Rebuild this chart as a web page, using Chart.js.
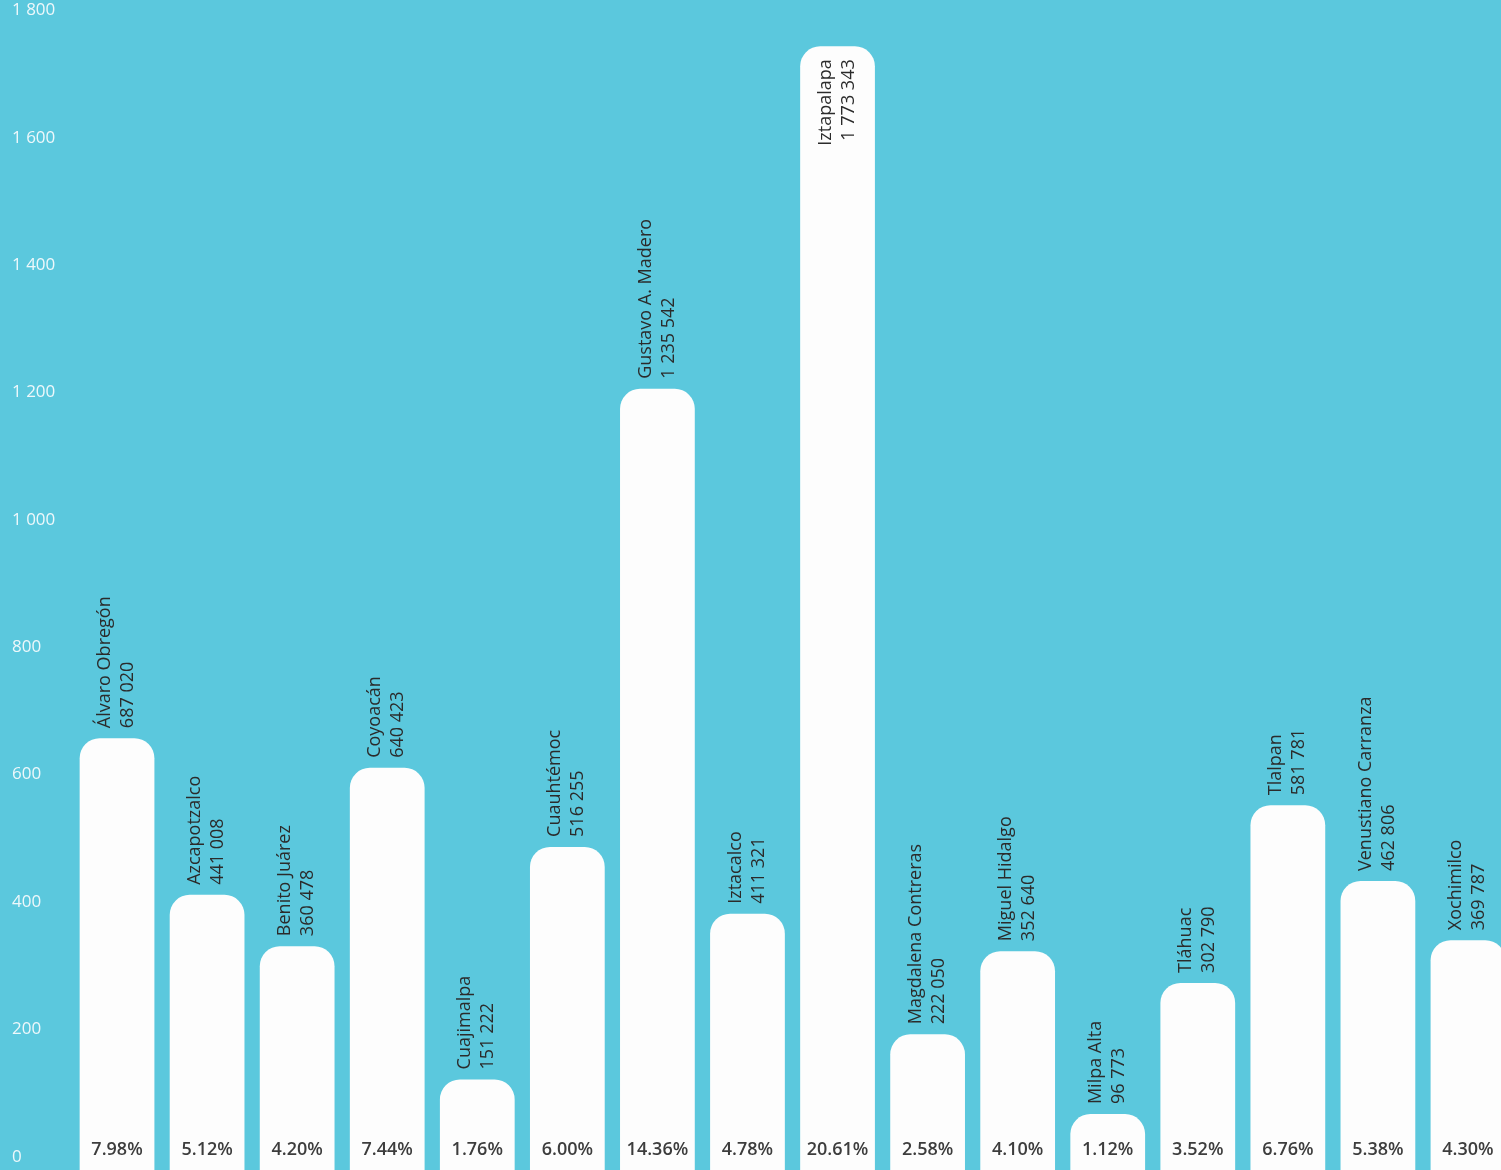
<!DOCTYPE html>
<html>
<head>
<meta charset="utf-8">
<script src="https://cdn.jsdelivr.net/npm/chart.js@4"></script>
<style>
  html, body { margin: 0; padding: 0; overflow: hidden; background: #5bc8dd; }
  #wrap { width: 1513px; height: 1170px; }
</style>
</head>
<body>
<div id="wrap"><canvas id="chart"></canvas></div>
<script>
const boroughs = ['Álvaro Obregón', 'Azcapotzalco', 'Benito Juárez', 'Coyoacán', 'Cuajimalpa', 'Cuauhtémoc',
    'Gustavo A. Madero', 'Iztacalco', 'Iztapalapa', 'Magdalena Contreras', 'Miguel Hidalgo', 'Milpa Alta',
    'Tláhuac', 'Tlalpan', 'Venustiano Carranza', 'Xochimilco'];
const population = [687020, 441008, 360478, 640423, 151222, 516255, 1235542, 411321,
    1773343, 222050, 352640, 96773, 302790, 581781, 462806, 369787];
const shares = ['7.98%', '5.12%', '4.20%', '7.44%', '1.76%', '6.00%', '14.36%', '4.78%',
    '20.61%', '2.58%', '4.10%', '1.12%', '3.52%', '6.76%', '5.38%', '4.30%'];
const yTicks = [0, 200, 400, 600, 800, 1000, 1200, 1400, 1600, 1800];

// thousands separated by a space, like the printed chart
const fmt = n => String(n).replace(/\B(?=(\d{3})+(?!\d))/g, ' ');

// names + totals rotated above each bar, share at the bottom
const barLabels = {
    id: 'barLabels',
    afterDatasetsDraw(chart) {
        const ctx = chart.ctx;
        const bottom = chart.chartArea.bottom;
        ctx.save();
        chart.getDatasetMeta(0).data.forEach((bar, i) => {
            const lines = [boroughs[i], fmt(population[i])];
            ctx.font = '18px "Open Sans"';
            ctx.fillStyle = '#2b2b2b';
            ctx.textBaseline = 'middle';
            const w = Math.max(...lines.map(t => ctx.measureText(t).width));
            const inside = bar.y - 10 - w < chart.chartArea.top;
            ctx.save();
            ctx.translate(bar.x, inside ? bar.y + 13 : bar.y - 10);
            ctx.rotate(-Math.PI / 2);
            ctx.textAlign = inside ? 'right' : 'left';
            ctx.fillText(lines[0], 0, -12);
            ctx.fillText(lines[1], 0, 11);
            ctx.restore();

            ctx.font = '600 18px "Open Sans"';
            ctx.textAlign = 'center';
            ctx.fillStyle = '#3d3d3d';
            ctx.fillText(shares[i], bar.x, bottom - 20);
        });
        ctx.restore();
    }
};

new Chart(document.getElementById('chart'), {
    type: 'bar',
    data: {
        labels: boroughs,
        datasets: [{
            data: population.map(v => v / 1000),
            backgroundColor: '#fdfdfd',
            borderRadius: 20,
            borderSkipped: 'start',
            barPercentage: 0.83,
            categoryPercentage: 1
        }]
    },
    options: {
        responsive: true,
        maintainAspectRatio: false,
        animation: false,
        layout: { padding: { left: 12, top: 0, right: 0, bottom: 0 } },
        plugins: { legend: { display: false }, tooltip: { enabled: false } },
        scales: {
            x: { display: false },
            y: {
                min: 9,
                max: 1846,
                grid: { display: false },
                border: { display: false },
                afterBuildTicks: s => { s.ticks = yTicks.map(v => ({ value: v })); },
                afterFit: s => { s.width = 60; s.paddingTop = 0; s.paddingBottom = 0; },
                ticks: {
                    color: '#eef8fb',
                    font: { family: 'Open Sans', size: 17 },
                    crossAlign: 'far',
                    padding: 0,
                    labelOffset: -19,
                    callback: v => fmt(v)
                }
            }
        }
    },
    plugins: [barLabels]
});
</script>
</body>
</html>
